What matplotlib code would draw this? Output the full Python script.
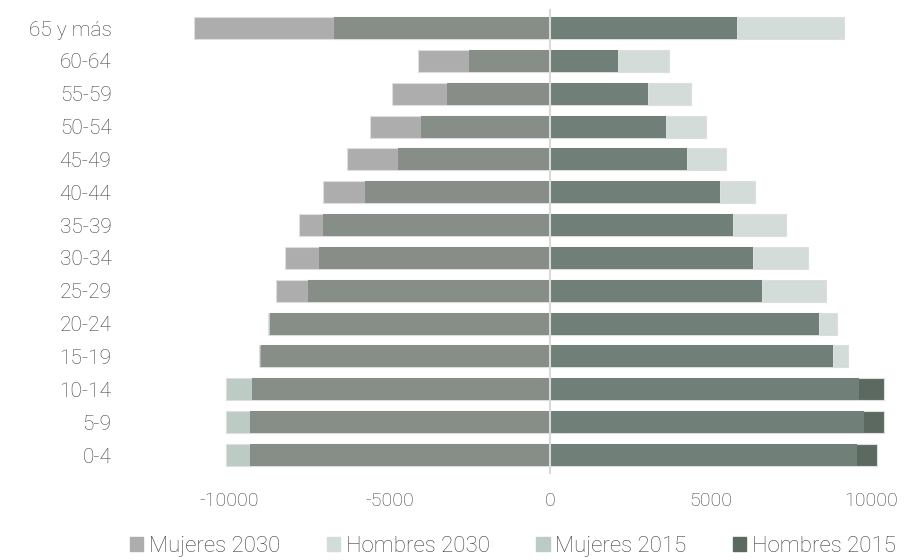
import numpy as np
import matplotlib.pyplot as plt
from matplotlib.patches import Patch

plt.rcParams["font.family"] = ["Roboto", "DejaVu Sans"]
plt.rcParams["font.weight"] = "light"
plt.rcParams["axes.unicode_minus"] = False

grupos = ["0-4", "5-9", "10-14", "15-19", "20-24", "25-29", "30-34", "35-39",
          "40-44", "45-49", "50-54", "55-59", "60-64", "65 y más"]

# valores por grupo de edad (mujeres en negativo)
mujeres_2030 = [-9350, -9350, -9280, -9070, -8720, -8530, -8250, -7830,
                -7070, -6310, -5620, -4930, -4100, -11080]
mujeres_2015 = [-10100, -10100, -10100, -9000, -8790, -7550, -7210, -7070,
                -5760, -4720, -4030, -3200, -2510, -6730]
hombres_2030 = [9560, 9780, 9640, 9290, 8940, 8600, 8050, 7350,
                6400, 5490, 4870, 4380, 3700, 9160]
hombres_2015 = [10190, 10400, 10400, 8810, 8390, 6600, 6320, 5700,
                5300, 4260, 3630, 3070, 2110, 5840]

c_m30 = "#adadad"
c_h30 = "#d4dcd9"
c_m15 = "#bccbc4"
c_h15 = "#5b6961"
c_m_over = "#878d87"
c_h_over = "#708078"
txt = "#404040"

y = np.arange(len(grupos))
h = 0.67
ec = "#dedede"

fig = plt.figure(figsize=(9.06, 5.6), dpi=100)
ax = fig.add_axes([0.1996, 0.1464, 0.790, 0.8446])

m30 = np.array(mujeres_2030)
m15 = np.array(mujeres_2015)
h30 = np.array(hombres_2030)
h15 = np.array(hombres_2015)

ax.barh(y, m30, height=h, color=c_m30, edgecolor=ec, linewidth=0.8)
ax.barh(y, m15, height=h, color=c_m15, edgecolor=ec, linewidth=0.8)
ax.barh(y, np.maximum(m30, m15), height=h, color=c_m_over, linewidth=0)

ax.barh(y, h30, height=h, color=c_h30, edgecolor=ec, linewidth=0.8)
ax.barh(y, h15, height=h, color=c_h15, edgecolor=ec, linewidth=0.8)
ax.barh(y, np.minimum(h30, h15), height=h, color=c_h_over, linewidth=0)

ax.axvline(0, color="#d9d9d9", lw=1.5, zorder=5, ymin=0.01, ymax=0.99)

ax.set_xlim(-11500, 10800)
ax.set_ylim(-0.7, len(grupos) - 0.3)
ax.set_yticks(y)
ax.set_yticklabels(grupos)
ax.set_xticks([-10000, -5000, 0, 5000, 10000])
ax.tick_params(axis="y", length=0, pad=50, labelsize=15, labelcolor=txt)
ax.tick_params(axis="x", length=0, pad=10, labelsize=14, labelcolor=txt)
for s in ax.spines.values():
    s.set_visible(False)

handles = [Patch(color=c_m30, label="Mujeres 2030"),
           Patch(color=c_h30, label="Hombres 2030"),
           Patch(color=c_m15, label="Mujeres 2015"),
           Patch(color=c_h15, label="Hombres 2015")]
leg = fig.legend(handles=handles, loc="lower center", bbox_to_anchor=(0.566, -0.03),
                 ncol=4, frameon=False, fontsize=16, handlelength=0.6,
                 handleheight=0.6, handletextpad=0.25, columnspacing=2.1)
for t in leg.get_texts():
    t.set_color(txt)

fig.savefig("out.png", dpi=100)
